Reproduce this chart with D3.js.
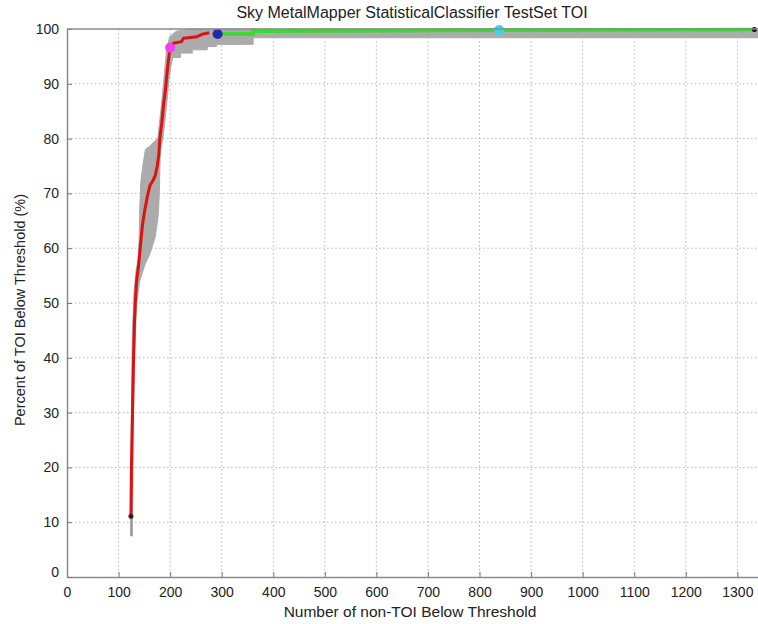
<!DOCTYPE html>
<html lang="en">
<head>
<meta charset="utf-8">
<script src="https://d3js.org/d3.v7.min.js"></script>
<style>
  body { margin: 0; background: #fff; font-family: "Liberation Sans", Arial, sans-serif; }
  .grid line { stroke: #b8b8b8; stroke-dasharray: 1.5 2.5; }
  .axis text { font-size: 14px; fill: #222; }
</style>
</head>
<body>
<script>
// tick values
var xTicks = d3.range(0, 1301, 100);
var yTicks = d3.range(0, 101, 10);

// red ROC curve: [non-TOI count, % TOI]
var redCurve = [[124,11.1],[125,20],[127,30],[129,40],[131,47],[133,51],[135,54],[139,57],
  [142,60],[146,64],[150,66.5],[156,69.5],[161,71.5],[167,72.4],[171,73.2],[175,75],
  [178,77],[180,80],[184,83],[187,86],[191,89],[194,92],[197,94.5],[200,96.6],
  [206,97.4],[222,97.7],[226,98.3],[252,98.6],[264,99.1],[276,99.3]];

// green continuation
var greenCurve = [[292,99.1],[361,99.1],[361,99.6],[838,99.75],[1333,99.9]];

// gray confidence band, left/upper edge then right/lower edge
var bandLeft = [[123,7.5],[123,11],[125,30],[127,45],[130,52],[134,56],[138,58],
  [140,62],[141,67],[143,72],[147,75],[152,78],[160,78.6],[176,80],[183,86],
  [189,92],[193,96],[199,98.6],[212,99.6],[240,100],[1340,100]];
var bandRight = [[1340,98.4],[361,98.4],[361,97.2],[290,97.2],[290,96.8],[272,96.8],
  [272,96.2],[243,96.2],[243,95.6],[220,95.6],[220,94.8],[205,94.8],[201,93],
  [197,90],[192,85],[186,80],[181,78],[179,70],[177,66],[171,62],[161,59],
  [151,57],[141,54],[135,50],[131,40],[128,25],[127,11],[127,7.5]];

// marker points
var markers = [
  {x: 200, y: 96.6, c: "#f23ff2", r: 5},
  {x: 292, y: 99.1, c: "#1f2aa8", r: 5},
  {x: 838, y: 99.8, c: "#3fd3ee", r: 5},
  {x: 124, y: 11.1, c: "#5a0d1a", r: 2.5},
  {x: 1333, y: 99.9, c: "#111", r: 2.5}
];

var w = 758, h = 624;
var mLeft = 67, mRight = 758, mTop = 29, mBottom = 577;

var svg = d3.select("body").append("svg").attr("width", w).attr("height", h);

var x = d3.scaleLinear().domain([0, 1340]).range([mLeft, mRight]);
var y = d3.scaleLinear().domain([0, 100]).range([mBottom, mTop]);

// grid
var grid = svg.append("g").attr("class", "grid");
grid.selectAll(".vx").data(xTicks.slice(1)).enter().append("line")
  .attr("x1", function(d) { return x(d); }).attr("x2", function(d) { return x(d); })
  .attr("y1", mTop).attr("y2", mBottom);
grid.selectAll(".hy").data(yTicks.slice(1, -1)).enter().append("line")
  .attr("y1", function(d) { return y(d); }).attr("y2", function(d) { return y(d); })
  .attr("x1", mLeft).attr("x2", mRight);

var line = d3.line().x(function(d) { return x(d[0]); }).y(function(d) { return y(d[1]); });

// band
var poly = bandLeft.concat(bandRight);
svg.append("path")
  .attr("d", line(poly) + "Z")
  .attr("fill", "#ababab").attr("stroke", "#ababab").attr("stroke-width", 1);

// thin gray tail below start
svg.append("line")
  .attr("x1", x(125)).attr("x2", x(125)).attr("y1", y(11)).attr("y2", y(7.5))
  .attr("stroke", "#a0a0a0").attr("stroke-width", 2);

svg.append("path").attr("d", line(greenCurve))
  .attr("fill", "none").attr("stroke", "#33dd2a").attr("stroke-width", 3.5);

svg.append("path").attr("d", line(redCurve))
  .attr("fill", "none").attr("stroke", "#e01010").attr("stroke-width", 3)
  .attr("stroke-linejoin", "round");

svg.selectAll(".mk").data(markers).enter().append("circle")
  .attr("cx", function(d) { return x(d.x); })
  .attr("cy", function(d) { return y(d.y); })
  .attr("r", function(d) { return d.r; })
  .attr("fill", function(d) { return d.c; });

// axes
var xAxis = d3.axisBottom(x).tickValues(xTicks).tickFormat(d3.format("d"))
  .tickSizeInner(-5).tickSizeOuter(0).tickPadding(10);
var yAxis = d3.axisLeft(y).tickValues(yTicks).tickFormat(d3.format("d"))
  .tickSizeInner(-5).tickSizeOuter(0).tickPadding(8);

var gx = svg.append("g").attr("class", "axis").attr("transform", "translate(0," + mBottom + ")").call(xAxis);
var gy = svg.append("g").attr("class", "axis").attr("transform", "translate(" + mLeft + ",0)").call(yAxis);
svg.selectAll(".axis .domain").attr("stroke", "#8a8a8a").attr("stroke-width", 1.5);
svg.selectAll(".axis .tick line").attr("stroke", "#777");
svg.selectAll(".axis text").attr("font-family", "Liberation Sans, Arial, sans-serif");
gy.selectAll(".tick").filter(function(d) { return d === 0; }).select("text").attr("dy", "-0.05em");

// top box line
svg.append("line").attr("x1", mLeft).attr("x2", mRight).attr("y1", mTop).attr("y2", mTop)
  .attr("stroke", "#8a8a8a").attr("stroke-width", 1.5);

// title and labels
svg.append("text").attr("x", 412).attr("y", 18).attr("text-anchor", "middle")
  .attr("font-size", "16px").attr("fill", "#222")
  .text("Sky MetalMapper StatisticalClassifier TestSet TOI");

svg.append("text").attr("x", 410).attr("y", 617).attr("text-anchor", "middle")
  .attr("font-size", "15.5px").attr("fill", "#222")
  .text("Number of non-TOI Below Threshold");

svg.append("text").attr("transform", "translate(25,310) rotate(-90)").attr("text-anchor", "middle")
  .attr("font-size", "14.5px").attr("fill", "#222")
  .text("Percent of TOI Below Threshold (%)");
</script>
</body>
</html>
